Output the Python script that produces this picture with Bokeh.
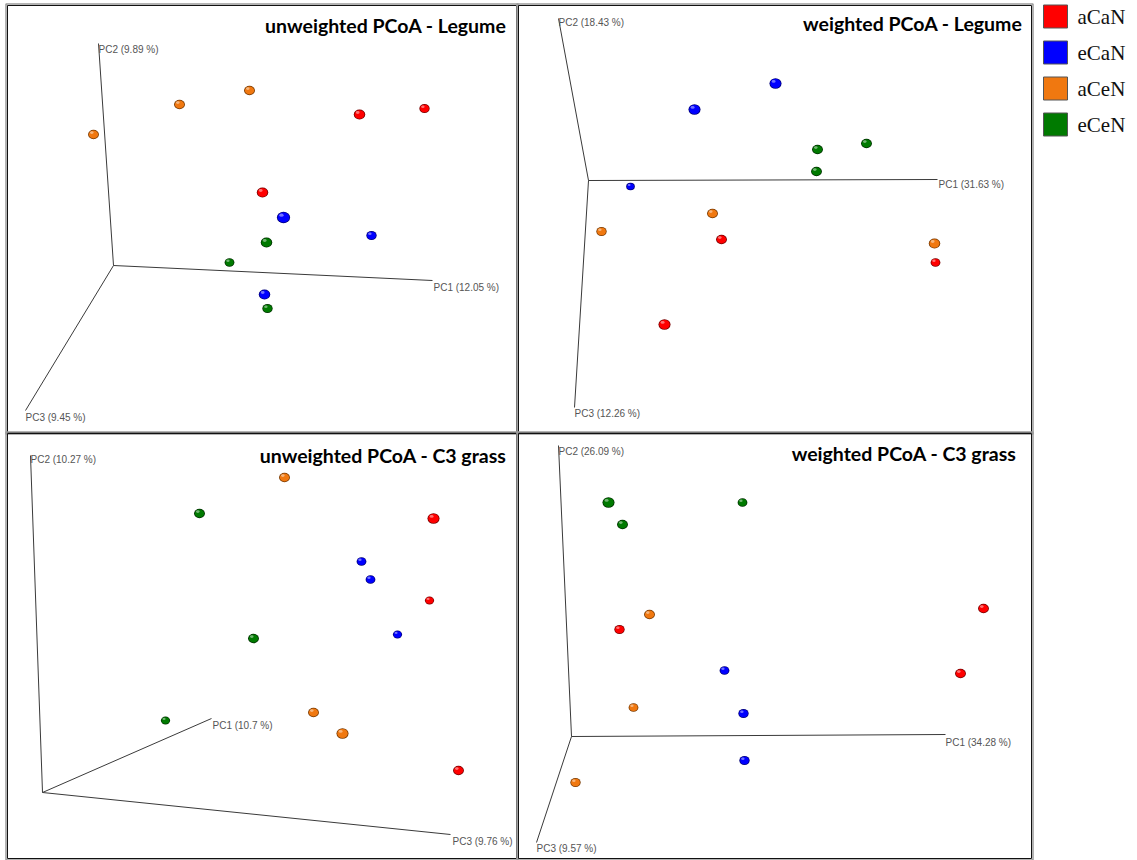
from bokeh.plotting import figure
from bokeh.models import Range1d, ColumnDataSource
from bokeh.core.properties import value
from bokeh.embed import file_html
from bokeh.resources import INLINE

# ---- groups and colours ----
groups = ["aCaN", "eCaN", "aCeN", "eCeN"]
group_colors = {"aCaN": "#ff0000", "eCaN": "#0000ff", "aCeN": "#f07810", "eCeN": "#007a00"}
group_edges = {"aCaN": "#7a0000", "eCaN": "#00007a", "aCeN": "#7a3a00", "eCeN": "#003300"}

# ---- projected sample positions (screen-space of each 3-D view) ----
# unweighted PCoA - Legume
unw_leg_group = ["aCeN", "aCeN", "aCeN", "aCaN", "aCaN", "aCaN",
                 "eCaN", "eCaN", "eCaN", "eCeN", "eCeN", "eCeN"]
unw_leg_x = [93, 179, 249, 359, 424, 262, 283, 371, 264, 266, 229, 267]
unw_leg_y = [134, 104, 90, 114, 108, 192, 217, 235, 294, 242, 262, 308]
unw_leg_d = [9.5, 9.5, 9.5, 10, 9, 10, 11.5, 9, 10, 10, 8.5, 9]

# weighted PCoA - Legume
w_leg_group = ["eCaN", "eCaN", "eCaN", "eCeN", "eCeN", "eCeN",
               "aCeN", "aCeN", "aCeN", "aCaN", "aCaN", "aCaN"]
w_leg_x = [775, 694, 630, 817, 866, 816, 712, 601, 934, 721, 935, 664]
w_leg_y = [83, 109, 186, 149, 143, 171, 213, 231, 243, 239, 262, 324]
w_leg_d = [10.5, 10.5, 7.5, 9.5, 9.5, 9.5, 9.5, 9, 10, 9.5, 8.5, 10.5]

# unweighted PCoA - C3 grass
unw_c3_group = ["aCeN", "aCeN", "aCeN", "eCeN", "eCeN", "eCeN",
                "aCaN", "aCaN", "aCaN", "eCaN", "eCaN", "eCaN"]
unw_c3_x = [284, 313, 342, 199, 253, 165, 433, 429, 458, 361, 370, 397]
unw_c3_y = [477, 712, 733, 513, 638, 720, 518, 600, 770, 561, 579, 634]
unw_c3_d = [9.5, 9.5, 10.5, 9.5, 9.5, 8, 10.5, 8, 9.5, 8.5, 8.5, 8]

# weighted PCoA - C3 grass
w_c3_group = ["eCeN", "eCeN", "eCeN", "aCeN", "aCeN", "aCeN",
              "aCaN", "aCaN", "aCaN", "eCaN", "eCaN", "eCaN"]
w_c3_x = [608, 622, 742, 649, 633, 575, 619, 983, 960, 724, 743, 744]
w_c3_y = [502, 524, 502, 614, 707, 782, 629, 608, 673, 670, 713, 760]
w_c3_d = [10.5, 9.5, 8.5, 9.5, 8.5, 9, 9, 9.5, 9.5, 8.5, 9, 9]

# ---- axis triads: origin, then end points of PC1 / PC2 / PC3 ----
axis_labels = {
    "unw_leg": ["PC1 (12.05 %)", "PC2 (9.89 %)", "PC3 (9.45 %)"],
    "w_leg": ["PC1 (31.63 %)", "PC2 (18.43 %)", "PC3 (12.26 %)"],
    "unw_c3": ["PC1 (10.7 %)", "PC2 (10.27 %)", "PC3 (9.76 %)"],
    "w_c3": ["PC1 (34.28 %)", "PC2 (26.09 %)", "PC3 (9.57 %)"],
}
axis_origin = {"unw_leg": (113, 265), "w_leg": (588, 180),
               "unw_c3": (42, 792), "w_c3": (571, 736)}
axis_ends = {
    "unw_leg": [(432, 280), (98, 43), (25, 410)],
    "w_leg": [(937, 179), (558, 18), (574, 407)],
    "unw_c3": [(211, 718), (30, 455), (450, 834)],
    "w_c3": [(945, 734), (558, 445), (536, 842)],
}
label_pos = {
    "unw_leg": [(433, 287), (98, 49), (25, 417)],
    "w_leg": [(938, 184), (558, 22), (574, 413)],
    "unw_c3": [(212, 725), (30, 459), (452, 841)],
    "w_c3": [(945, 742), (558, 451), (536, 848)],
}
titles = {"unw_leg": "unweighted PCoA - Legume", "w_leg": "weighted PCoA - Legume",
          "unw_c3": "unweighted PCoA - C3 grass", "w_c3": "weighted PCoA - C3 grass"}
title_pos = {"unw_leg": (506, 25), "w_leg": (1022, 23),
             "unw_c3": (506, 455), "w_c3": (1016, 453)}
frames = {"unw_leg": (7, 5, 516, 432), "w_leg": (518, 5, 1031, 432),
          "unw_c3": (7, 433, 516, 858), "w_c3": (518, 433, 1031, 858)}

W, H = 1137, 860
p = figure(width=W, height=H, x_range=Range1d(0, W), y_range=Range1d(H, 0),
           output_backend="svg", toolbar_location=None, min_border=0)
p.axis.visible = False
p.grid.visible = False
p.outline_line_color = None
p.background_fill_color = "white"
p.border_fill_color = "white"

panels = {
    "unw_leg": (unw_leg_x, unw_leg_y, unw_leg_d, unw_leg_group),
    "w_leg": (w_leg_x, w_leg_y, w_leg_d, w_leg_group),
    "unw_c3": (unw_c3_x, unw_c3_y, unw_c3_d, unw_c3_group),
    "w_c3": (w_c3_x, w_c3_y, w_c3_d, w_c3_group),
}

for key, (xs, ys, ds, gs) in panels.items():
    l, t, r, b = frames[key]
    # frame: light grey outer rim plus dark inner line
    p.quad(left=[l - 1.5], right=[r + 1.5], top=[t - 1.5], bottom=[b + 1.5],
           fill_color=None, line_color="#9a9a9a", line_width=1.5)
    p.quad(left=[l], right=[r], top=[t], bottom=[b],
           fill_color=None, line_color="#111111", line_width=1)

    ox, oy = axis_origin[key]
    ends = axis_ends[key]
    p.segment(x0=[ox] * 3, y0=[oy] * 3, x1=[e[0] for e in ends], y1=[e[1] for e in ends],
              line_color="#3a3a3a", line_width=1)
    lp = label_pos[key]
    p.text(x=[q[0] for q in lp], y=[q[1] for q in lp], text=axis_labels[key],
           text_font=value("Liberation Sans"), text_font_size="10px",
           text_color="#555555", text_baseline="middle", text_align="left")

    tx, ty = title_pos[key]
    p.text(x=[tx], y=[ty], text=[titles[key]], text_font=value("Lato"),
           text_font_size="19.5px", text_font_style="bold", text_color="black",
           text_align="right", text_baseline="middle")

    # shaded spheres: dark rim, coloured body, soft highlight
    src = ColumnDataSource(dict(
        x=xs, y=ys,
        w=[d * 1.15 for d in ds], h=ds,
        w2=[d * 1.15 - 1.6 for d in ds], h2=[d - 1.6 for d in ds],
        hx=[x - d * 0.18 for x, d in zip(xs, ds)], hy=[y - d * 0.2 for y, d in zip(ys, ds)],
        hw=[d * 0.38 for d in ds], hh=[d * 0.28 for d in ds],
        fill=[group_colors[g] for g in gs], edge=[group_edges[g] for g in gs],
    ))
    p.ellipse(x="x", y="y", width="w", height="h", source=src,
              fill_color="edge", line_color=None)
    p.ellipse(x="x", y="y", width="w2", height="h2", source=src,
              fill_color="fill", line_color=None)
    p.ellipse(x="hx", y="hy", width="hw", height="hh", source=src,
              fill_color="white", fill_alpha=0.45, line_color=None)

# ---- legend ----
leg_y = [16, 52, 88, 124]
p.quad(left=[1043] * 4, right=[1067] * 4,
       top=[y - 11.5 for y in leg_y], bottom=[y + 11.5 for y in leg_y],
       fill_color=[group_colors[g] for g in groups], line_color="#555555", line_width=1)
p.text(x=[1077] * 4, y=leg_y, text=groups, text_font=value("Liberation Serif"),
       text_font_size="21px", text_color="#111111", text_baseline="middle",
       text_align="left")

open("out.html", "w").write(file_html(p, INLINE))
